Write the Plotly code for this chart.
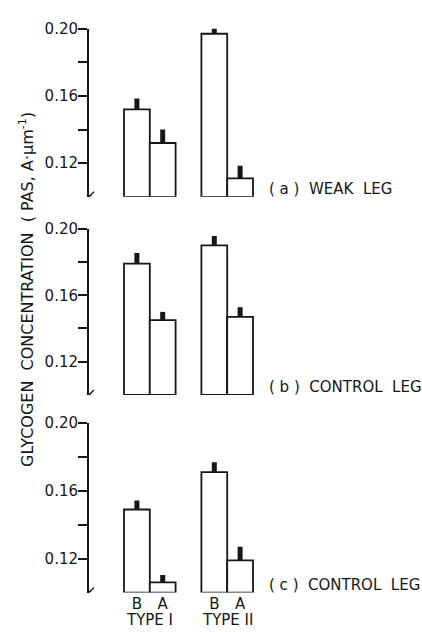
import plotly.graph_objects as go

# ---- data ----
fiber_types = ["TYPE I", "TYPE II"]
conditions = ["B", "A"]
panel_labels = ["( a )  WEAK  LEG", "( b )  CONTROL  LEG", "( c )  CONTROL  LEG"]

weak_leg = [0.152, 0.132, 0.197, 0.111]
weak_leg_err = [0.0065, 0.008, 0.005, 0.0075]

control_leg_b = [0.179, 0.145, 0.190, 0.147]
control_leg_b_err = [0.0065, 0.005, 0.0057, 0.0058]

control_leg_c = [0.149, 0.106, 0.171, 0.119]
control_leg_c_err = [0.0053, 0.0043, 0.0058, 0.008]

y_major_ticks = [0.12, 0.16, 0.20]
y_major_text = ["0.12", "0.16", "0.20"]
y_minor_ticks = [0.14, 0.18]
y_base = 0.10
y_title = "GLYCOGEN  CONCENTRATION  ( PAS, A·μm<sup>-1</sup>)"

# ---- layout constants ----
W, H = 422, 632
ML, MR = 89, 22
PW = W - ML - MR
FONT = "DejaVu Sans"
INK = "#161616"
FS = 15

# panel pixel extents (top, bottom)
panels_px = [(20, 190.5), (223, 391.5), (420, 592)]
domains = [[1 - b / H, 1 - t / H] for (t, b) in panels_px]

# x positions: group*3 + index
xpos = [g * 3 + i + 0.5 for g in range(len(fiber_types)) for i in range(len(conditions))]
bar_px = 25.8
x_left = -(124 - ML) / bar_px
x_range = [x_left, x_left + PW / bar_px]

series = [(weak_leg, weak_leg_err), (control_leg_b, control_leg_b_err), (control_leg_c, control_leg_c_err)]

fig = go.Figure()
layout = dict(
    width=W, height=H,
    margin=dict(l=ML, r=MR, t=0, b=0),
    paper_bgcolor="white", plot_bgcolor="white",
    showlegend=False,
    font=dict(family=FONT, color=INK, size=FS),
)
shapes = []
annotations = []

for k, ((vals, errs), dom, lab) in enumerate(zip(series, domains, panel_labels)):
    idx = "" if k == 0 else str(k + 1)
    xa, ya = "x" + idx, "y" + idx
    fig.add_trace(go.Bar(
        x=xpos,
        y=[v - y_base for v in vals],
        base=y_base,
        width=1,
        marker=dict(color="white", line=dict(color=INK, width=1.8)),
        error_y=dict(type="data", symmetric=False, array=errs,
                     arrayminus=[0] * len(errs), thickness=5, width=0, color=INK),
        cliponaxis=False,
        xaxis=xa, yaxis=ya,
    ))
    xaxis = dict(
        domain=[0, 1], range=x_range, anchor=ya,
        showgrid=False, zeroline=False, showline=False,
        ticks="", showticklabels=(k == 2),
        tickfont=dict(size=FS, family=FONT, color=INK),
    )
    if k == 2:
        xaxis.update(tickmode="array", tickvals=xpos,
                     ticktext=conditions * len(fiber_types))
    layout["xaxis" + idx] = xaxis
    layout["yaxis" + idx] = dict(
        domain=dom, range=[y_base, 0.20], anchor=xa,
        showgrid=False, zeroline=False,
        showline=True, linewidth=2, linecolor=INK,
        tickmode="array", tickvals=y_major_ticks, ticktext=y_major_text,
        ticks="outside", ticklen=9, tickwidth=1.5, tickcolor=INK,
        ticklabelstandoff=-3,
        tickfont=dict(size=FS, family=FONT, color=INK),
        minor=dict(tickmode="array", tickvals=y_minor_ticks, ticks="outside",
                   ticklen=9, tickwidth=1.5, tickcolor=INK, showgrid=False),
    )
    # axis break marks "//"
    for off in (0, 3):
        shapes.append(dict(
            type="line", xref="paper", yref=ya,
            xsizemode="pixel", ysizemode="pixel",
            xanchor=0, yanchor=y_base,
            x0=-4 + off, x1=2 + off, y0=-4 + off, y1=2 + off,
            line=dict(color=INK, width=1.3),
        ))
    annotations.append(dict(
        text=lab, xref="paper", yref=ya,
        x=(267 - ML) / PW, y=y_base + 0.0045,
        xanchor="left", yanchor="middle", showarrow=False,
        font=dict(size=FS, family=FONT, color=INK),
    ))

# type labels under the bottom panel
for g, t in enumerate(fiber_types):
    annotations.append(dict(
        text=t, xref="x3", yref="paper",
        x=g * 3 + 1, y=1 - 620 / H,
        xanchor="center", yanchor="middle", showarrow=False,
        font=dict(size=FS, family=FONT, color=INK),
    ))

# y-axis title
annotations.append(dict(
    text=y_title, xref="paper", yref="paper",
    x=(27 - ML) / PW, y=1 - 285 / H,
    xanchor="center", yanchor="middle", textangle=-90, showarrow=False,
    font=dict(size=16, family=FONT, color=INK),
))

layout["shapes"] = shapes
layout["annotations"] = annotations
fig.update_layout(**layout)
fig.write_html("out.html")
